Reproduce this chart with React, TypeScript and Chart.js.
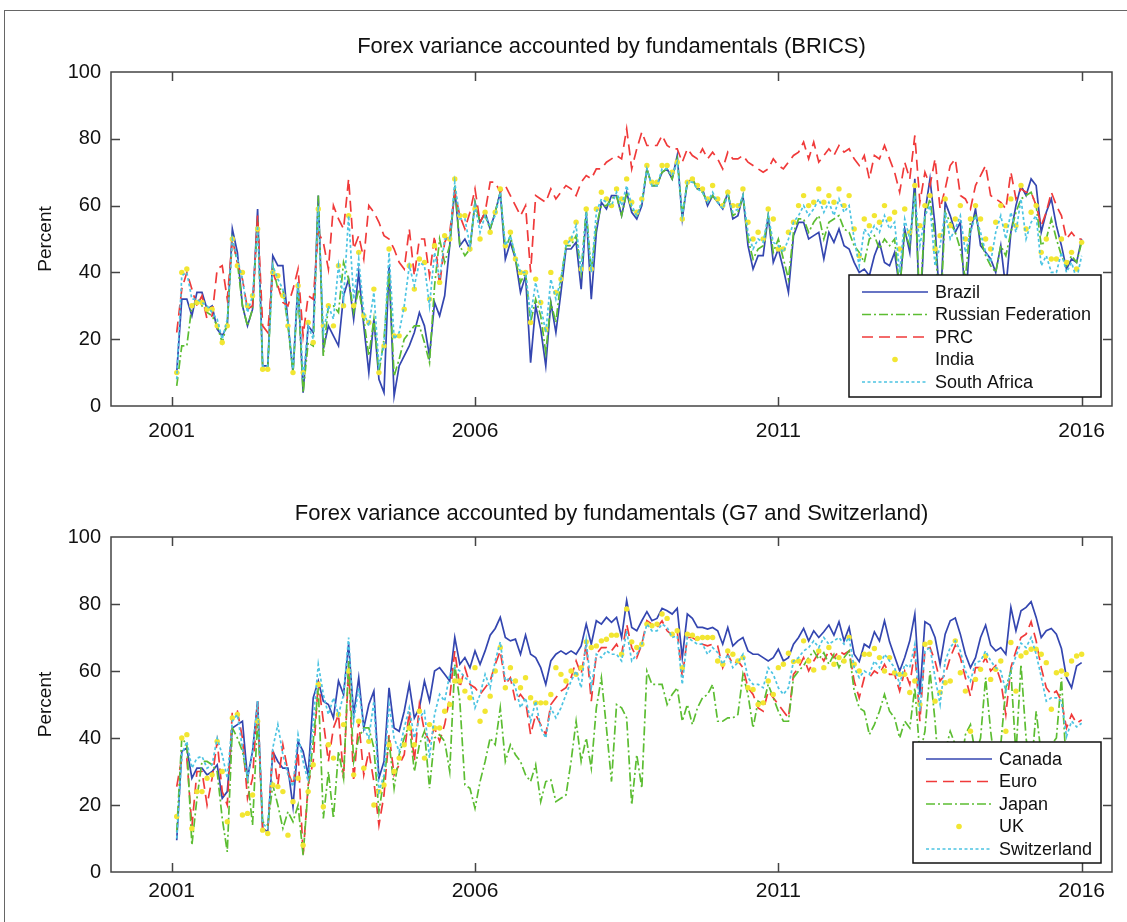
import React, { useEffect, useRef } from "react";
import { Chart, registerables } from "chart.js";

Chart.register(...registerables);

const FONT = "'Liberation Sans', Arial, Helvetica, sans-serif";

// Monthly observations, Feb 2001 ... Jan 2016
const dates: number[] = Array.from({ length: 180 }, (_, i) => 2001 + (i + 1) / 12);

const yearTicks = [2001, 2006, 2011, 2016];
const percentTicks = [0, 20, 40, 60, 80, 100];

const titleBRICS = "Forex variance accounted by fundamentals (BRICS)";
const titleG7 = "Forex variance accounted by fundamentals (G7 and Switzerland)";
const yAxisTitle = "Percent";

// ---------------- BRICS ----------------
const brazil = [
  10,32,32,27,34,34,29,30,23,21,24,53,
  46,30,24,29,59,12,12,45,42,42,25,10,
  37,4,24,22,63,17,24,21,18,33,38,26,
  40,24,10,26,8,4,42,3,12,15,18,22,
  28,24,15,31,27,33,48,65,48,50,47,61,
  55,58,53,58,64,44,49,44,34,39,13,30,
  23,12,31,22,34,47,47,49,35,58,32,52,
  61,59,63,63,57,64,58,56,60,71,66,66,
  70,71,68,75,56,67,68,65,65,60,63,61,
  59,64,56,57,63,48,41,45,45,57,43,47,
  41,34,51,55,55,50,51,52,44,52,49,53,
  48,47,43,40,41,39,45,49,43,42,46,35,
  53,46,68,25,58,68,54,28,61,57,52,55,
  30,52,59,48,46,44,40,48,35,52,60,66,
  63,68,66,52,58,62,54,48,41,44,43,50,
];
const russia = [
  6,18,18,30,31,30,28,27,24,19,25,50,
  43,30,24,29,56,11,11,42,35,35,24,10,
  35,4,19,18,63,15,30,30,28,43,38,28,
  35,26,15,26,10,20,40,9,14,20,22,24,
  24,19,13,36,50,43,48,66,48,45,47,61,
  55,57,53,58,64,47,51,44,37,40,25,32,
  27,16,31,25,38,48,48,51,40,59,40,54,
  60,60,62,63,57,64,59,57,61,71,66,66,
  70,71,68,74,57,67,68,65,64,61,63,61,
  60,64,57,58,63,50,44,47,48,57,46,50,
  44,38,52,56,56,52,55,57,50,55,56,57,
  53,52,48,46,43,50,51,47,50,48,50,35,
  52,48,64,30,57,62,50,25,58,55,52,47,
  38,55,57,50,45,42,40,48,45,52,58,62,
  63,64,60,48,50,56,50,45,42,45,43,49,
];
const prc = [
  22,35,40,35,30,33,26,27,41,42,32,50,
  43,38,29,30,57,24,22,40,36,31,30,35,
  41,21,33,32,52,49,41,60,56,53,68,47,
  51,44,60,58,55,51,50,47,43,41,53,39,
  50,50,39,51,36,49,52,64,57,53,58,65,
  55,58,67,67,64,66,63,60,57,60,40,63,
  62,61,65,62,64,66,65,63,67,69,68,71,
  71,73,74,75,74,83,71,77,82,78,78,78,
  81,78,77,77,73,77,75,74,77,74,76,74,
  71,76,74,74,75,73,72,71,70,71,74,72,
  71,73,75,76,79,74,79,73,75,77,75,78,
  76,77,74,72,75,68,75,74,78,74,70,64,
  73,68,81,61,70,66,74,59,65,72,74,63,
  62,59,66,69,72,63,62,61,59,70,62,65,
  64,64,60,54,58,64,60,57,50,52,50,50,
];
const india = [
  10,40,41,30,31,31,29,29,24,19,24,50,
  42,40,30,33,53,11,11,40,39,33,24,10,
  36,10,25,19,59,24,30,24,42,30,57,30,
  46,27,25,35,10,18,47,21,21,29,42,35,
  44,43,32,48,37,51,50,68,57,57,47,59,
  50,58,52,58,65,48,52,44,40,40,25,38,
  31,23,40,34,38,49,50,55,41,59,41,59,
  64,62,60,65,62,68,61,58,62,72,67,67,
  72,72,70,73,56,67,68,66,65,62,66,62,
  60,64,60,60,65,55,50,52,50,59,56,47,
  47,52,55,60,63,60,61,65,61,63,61,65,
  60,63,53,45,56,54,57,55,60,56,58,47,
  59,52,66,54,60,63,47,51,62,54,56,60,
  50,56,60,56,50,47,55,60,54,62,54,66,
  53,58,60,46,50,44,44,50,43,46,41,49,
];
const southAfrica = [
  8,39,40,32,32,31,30,28,26,20,26,50,
  44,38,28,33,54,12,12,42,38,35,25,11,
  37,8,24,20,60,22,30,26,42,32,57,32,
  44,28,24,34,12,18,46,20,22,30,42,36,
  43,42,30,46,38,50,50,67,56,56,48,60,
  52,57,54,57,64,48,51,45,40,40,27,37,
  30,22,38,32,38,48,50,54,40,58,40,58,
  62,61,60,64,60,66,60,57,61,71,66,66,
  71,71,69,73,57,67,67,65,64,61,64,61,
  59,63,58,59,63,52,47,50,49,57,49,48,
  46,50,55,57,60,57,59,62,58,61,57,62,
  58,60,50,42,53,51,54,52,57,53,55,40,
  56,50,63,48,57,60,42,48,58,50,53,57,
  46,52,57,52,46,43,52,57,50,58,52,62,
  50,55,57,42,45,40,40,46,40,43,38,45,
];

// ---------------- G7 and Switzerland ----------------
const canada = [
  9.5,36,37,28,31,31,29,30,32,22,24,43,
  44,45,28,36,51,13,12,36,33,31,31,19.5,
  39,36,29,52,57,51,50,46,57,53,68,47,
  58,43,50,54,28,33,55,43,42,48,56,46,
  49,57,51,60,61,59,57,70,62,64,61,66,
  62,66,70.7,72.7,76,70,69,69.5,65,70.7,65,64,
  61,56,63,65,66,65,66,65,67.5,74,68,75,
  74,76,74.5,76,70,81,73,72,75,77.7,75,75.7,
  78.7,78,77,78.7,64,77,75.7,73,73,72.5,73,72,
  68,73,67.5,69,70,66,65,65,64,63,64,66.5,
  63,64,68,70,72.7,69,72,70,71.7,73.7,70.7,74.7,
  69,73,65,62.8,68,67,71.7,69,75,68.7,64.3,60,
  64,69,77,53,74.7,73.7,70,62,71,75,75.8,71,
  65,61,64,70,73.7,67.7,66,67,65,79,72,78,
  79,80.7,76,70,72,72.7,71,66.7,58,55,61.5,62.5,
];
const euro = [
  25.5,34,34,13.5,30,30,20,28,39,24,20,48,
  48,40,22,28,51,12.5,12,37,26,38,30,26,
  36,5,26,33,57,45,33,43,47,28,61,27,
  45,29,36,27,14,23,41,29,32,35,48,33,
  50,42,39,43,39,44,52,66,55,61,56,55,
  53,55,57,62,66,56,58,51,53,51,41,47,
  44,41,50,52,54,55,58,63,59,68,51,65,
  67,67,66,68,65,74,67,64,68,75,74,73,
  75,72,70.7,72,58,70,70,69,68,67.5,68,67.5,
  61,65,62,63,61,55,53,49,48,54,52,50,
  48,46,59,61,64,60,63,65.5,63,66,64,66,
  65,66,57,52,58,58,60,59,62,59,59,54,
  60,56,66,45,66.5,67,63,57,59,64,67.7,64,
  58,52.5,61,61,64,60,61.6,57,47,61,66,70,
  71,74.7,69,61,55,53,54,51,43,47,44.4,45.4,
];
const japan = [
  12,40,38,8,22,33,33,32,30,16,6,43,
  40,36,28,14,46,15,14,26,20,13,18,15,
  20,5,25,39,55,16,30,16,36,28,63,33,
  40,43,43,37,18,28,39,25,35,40,44,30,
  38,42,25,40,41,39,30,62,51,26,25,19,
  27,33,40,38,49,33,38,35,33,29,27,32,
  21,27,27.5,21,22,23,33,45,33,40,31,49,
  58,43,27,50,49,46,20,35,25,60,56,56,
  56,50,53,55,45,50,44,49,52,53,56,45,
  45,46,46,47,59,53,43,51,50,56,52,48,
  45,45,58,60,61.6,64,66,63.5,65.5,62,65,61,
  64,66,54,49,48,41,44,48,53,48,46,40,
  45,43,55,35,42,60,45,25,36,42,38,30,
  41,44,35,40,58,42,30,38,55,60,35,62,
  40,30,48,35,30,38,40,58,30,35,28,32,
];
const uk = [
  16.6,40,41,13,24,24,28,29,39,30,15,46,
  47,17,17.5,23,45,12.5,11.5,26,25.5,24,11,21,
  28,8,24,32,56,19.5,38,34,47,44,60,29,
  45,31,39,20,24,26,38,30,34,38,43,38,
  48,34,44,43,43,48,50,57,57,54,52,61,
  45,48,52.5,60,67,55,61,57,55,58,52,50.5,
  50.5,50.5,53,61,59,57,60,59,61,68.7,67,67.5,
  69,69.5,70.7,70.7,65,78.5,68.7,67,68,74,73.5,74,
  77,75.7,71,72,61,71,70.7,69.7,70,70,70,63,
  62,66,65,63,64,55,54.5,50,50.5,57,53,61,
  62,65.3,62.8,63,69,63,60.3,66,61,67,62,64,
  63,70,62,60,65,65,66.7,64,60,64,59.5,59,
  59,53.6,57,50,68,68.5,51,53.6,56.5,57,69,59.5,
  54,42,57.5,60.5,64.5,57.5,60.5,63,42,68.5,54,64.5,
  65.5,66.5,66.5,65,62.5,48.6,59.5,60,59,63,64.5,65,
];
const switzerland = [
  10,35,39,31,34,34.5,31,32,40,35,28,45,
  47,37,28,36,51,14.5,13,37,44,35,29,25.5,
  41,33,27,45,62,53,47,52,47,53,70,45,
  55,43,40,51,24,29,50,40,36,43,49,40,
  46,48,34,47,53,51,59,61,60,58,57,49,
  53,59,55,63,68.7,57,58,55,49,52,45,51,
  43,40,49,46,49,53,57,60,55,69,55,65,
  64,66,65,65,63,72,63,65,68,74,72,72,
  74,73,70,70.5,56,70,69,68,68,65,67,65.5,
  62,65,61,62.5,65,58,56,56,55,61,59,55,
  53,55,63,64,66,67,69,67,70,68,69,70,
  68,70,61,58,60,59,63,61,65,63,61,56,
  62,61,68,48,66,67,58,50,63,67,69,66,
  60,57,62.5,63,66,63,61,60,54,60,64.5,68.3,
  67,70,65,58.3,51,52,52,51,40.4,45,43.3,44.4,
];

const BLUE = "#3446b0";
const GREEN = "#5cbd32";
const RED = "#f03a3a";
const YELLOW = "#f2e632";
const CYAN = "#4cc4e2";

const DASH_LONG = [11, 6];
const DASH_DOT = [9, 3, 2, 3];
const DOTTED = [3, 2.5];

type Series = { label: string; values: number[]; color: string; dash: number[] | null };

const bricsSeries: Series[] = [
  { label: "Brazil", values: brazil, color: BLUE, dash: [] },
  { label: "Russian Federation", values: russia, color: GREEN, dash: DASH_DOT },
  { label: "PRC", values: prc, color: RED, dash: DASH_LONG },
  { label: "India", values: india, color: YELLOW, dash: null },
  { label: "South Africa", values: southAfrica, color: CYAN, dash: DOTTED },
];
const g7Series: Series[] = [
  { label: "Canada", values: canada, color: BLUE, dash: [] },
  { label: "Euro", values: euro, color: RED, dash: DASH_LONG },
  { label: "Japan", values: japan, color: GREEN, dash: DASH_DOT },
  { label: "UK", values: uk, color: YELLOW, dash: null },
  { label: "Switzerland", values: switzerland, color: CYAN, dash: DOTTED },
];

// Title centred over the plot area (MATLAB style)
const plotTitlePlugin = {
  id: "plotTitle",
  afterDraw(chart: any, _args: any, opts: any) {
    const { ctx, chartArea: a } = chart;
    ctx.save();
    ctx.font = `22px ${FONT}`;
    ctx.fillStyle = "#111";
    ctx.textAlign = "center";
    ctx.textBaseline = "middle";
    ctx.fillText(opts.text, (a.left + a.right) / 2, opts.y);
    ctx.restore();
  },
};

const framePlugin = {
  id: "frameTicks",
  afterDatasetsDraw(chart: any) {
    const { ctx, chartArea: a, scales } = chart;
    ctx.save();
    ctx.setLineDash([]);
    ctx.strokeStyle = "#444";
    ctx.lineWidth = 1.5;
    ctx.strokeRect(a.left, a.top, a.right - a.left, a.bottom - a.top);
    const L = 9;
    ctx.beginPath();
    scales.x.ticks.forEach((t: any) => {
      const x = Math.round(scales.x.getPixelForValue(t.value)) + 0.5;
      ctx.moveTo(x, a.bottom);
      ctx.lineTo(x, a.bottom - L);
      ctx.moveTo(x, a.top);
      ctx.lineTo(x, a.top + L);
    });
    scales.y.ticks.forEach((t: any) => {
      if (t.value <= 0 || t.value >= 100) return;
      const y = Math.round(scales.y.getPixelForValue(t.value)) + 0.5;
      ctx.moveTo(a.left, y);
      ctx.lineTo(a.left + L, y);
      ctx.moveTo(a.right, y);
      ctx.lineTo(a.right - L, y);
    });
    ctx.stroke();
    ctx.restore();
  },
};

const boxLegendPlugin = {
  id: "boxLegend",
  afterDraw(chart: any, _args: any, opts: any) {
    const { ctx, chartArea: a } = chart;
    const w = opts.width;
    const h = opts.height;
    const right = a.right - 11;
    const bottom = a.bottom - 9;
    const left = right - w;
    const top = bottom - h;
    ctx.save();
    ctx.fillStyle = "#ffffff";
    ctx.fillRect(left, top, w, h);
    ctx.setLineDash([]);
    ctx.strokeStyle = "#111";
    ctx.lineWidth = 1.5;
    ctx.strokeRect(left, top, w, h);
    ctx.font = `18px ${FONT}`;
    ctx.textBaseline = "middle";
    ctx.textAlign = "left";
    chart.data.datasets.forEach((ds: any, i: number) => {
      const y = top + 17 + i * 22.5;
      const x0 = left + 13;
      const x1 = left + 79;
      if (ds.showLine === false) {
        ctx.fillStyle = ds.pointBackgroundColor;
        ctx.beginPath();
        ctx.arc((x0 + x1) / 2, y, 2.8, 0, Math.PI * 2);
        ctx.fill();
      } else {
        ctx.strokeStyle = ds.borderColor;
        ctx.lineWidth = ds.borderWidth;
        ctx.setLineDash(ds.borderDash || []);
        ctx.beginPath();
        ctx.moveTo(x0, y);
        ctx.lineTo(x1, y);
        ctx.stroke();
      }
      ctx.setLineDash([]);
      ctx.fillStyle = "#111";
      ctx.fillText(ds.label, left + 86, y + 1);
    });
    ctx.restore();
  },
};

function buildDatasets(series: Series[]) {
  const n = series.length;
  return series.map((s, i) => {
    const data = s.values.map((v, j) => ({ x: dates[j], y: v }));
    if (s.dash === null) {
      return {
        label: s.label,
        data,
        showLine: false,
        pointRadius: 2.7,
        pointBorderWidth: 0,
        pointBackgroundColor: s.color,
        pointBorderColor: s.color,
        borderColor: s.color,
        order: n - 1 - i,
      };
    }
    return {
      label: s.label,
      data,
      borderColor: s.color,
      backgroundColor: s.color,
      borderWidth: 1.7,
      borderDash: s.dash,
      pointRadius: 0,
      tension: 0,
      fill: false,
      order: n - 1 - i,
    };
  });
}

type PanelProps = {
  top: number;
  height: number;
  title: string;
  titleY: number;
  axisHeight: number;
  tickPad: number;
  series: Series[];
  legendW: number;
  legendH: number;
};

function Panel(p: PanelProps) {
  const ref = useRef<HTMLCanvasElement>(null);
  useEffect(() => {
    const chart = new Chart(ref.current as HTMLCanvasElement, {
      type: "line",
      data: { datasets: buildDatasets(p.series) as any },
      options: {
        animation: false,
        responsive: false,
        devicePixelRatio: 1,
        events: [],
        layout: { padding: { left: 0, right: 15, top: 72, bottom: 0 } },
        plugins: {
          legend: { display: false },
          tooltip: { enabled: false },
          title: { display: false },
          plotTitle: { text: p.title, y: p.titleY },
          boxLegend: { width: p.legendW, height: p.legendH },
        } as any,
        scales: {
          x: {
            type: "linear",
            min: 2000,
            max: 2016.5,
            grid: { display: false, drawTicks: false },
            border: { display: false },
            afterBuildTicks: (s: any) => {
              s.ticks = yearTicks.map((v) => ({ value: v }));
            },
            afterFit: (s: any) => {
              s.height = p.axisHeight;
            },
            ticks: {
              color: "#111",
              font: { family: FONT, size: 21 },
              padding: p.tickPad,
              maxRotation: 0,
              autoSkip: false,
              callback: (v: any) => String(v),
            },
          },
          y: {
            type: "linear",
            min: 0,
            max: 100,
            grid: { display: false, drawTicks: false },
            border: { display: false },
            afterBuildTicks: (s: any) => {
              s.ticks = percentTicks.map((v) => ({ value: v }));
            },
            afterFit: (s: any) => {
              s.width = 111;
            },
            ticks: {
              color: "#111",
              font: { family: FONT, size: 20 },
              padding: 10,
              callback: (v: any) => String(v),
            },
            title: {
              display: true,
              text: yAxisTitle,
              color: "#111",
              font: { family: FONT, size: 19 },
              padding: { top: 34, bottom: 0 },
            },
          },
        },
      } as any,
      plugins: [framePlugin, boxLegendPlugin, plotTitlePlugin],
    });
    return () => chart.destroy();
  }, []);
  return (
    <canvas
      ref={ref}
      width={1127}
      height={p.height}
      style={{ position: "absolute", left: 0, top: p.top, width: 1127, height: p.height }}
    />
  );
}

export default function App() {
  return (
    <div
      style={{
        position: "fixed",
        left: 0,
        top: 0,
        width: 1127,
        height: 922,
        background: "#fff",
        overflow: "hidden",
      }}
    >
      <Panel
        top={0}
        height={465}
        title={titleBRICS}
        titleY={47}
        axisHeight={59}
        tickPad={13}
        series={bricsSeries}
        legendW={252}
        legendH={122}
      />
      <Panel
        top={465}
        height={457}
        title={titleG7}
        titleY={49}
        axisHeight={50}
        tickPad={7}
        series={g7Series}
        legendW={188}
        legendH={121}
      />
      <div style={{ position: "absolute", left: 4, top: 10, right: 0, height: 1, background: "#666" }} />
      <div style={{ position: "absolute", left: 4, top: 10, bottom: 0, width: 1, background: "#666" }} />
    </div>
  );
}
